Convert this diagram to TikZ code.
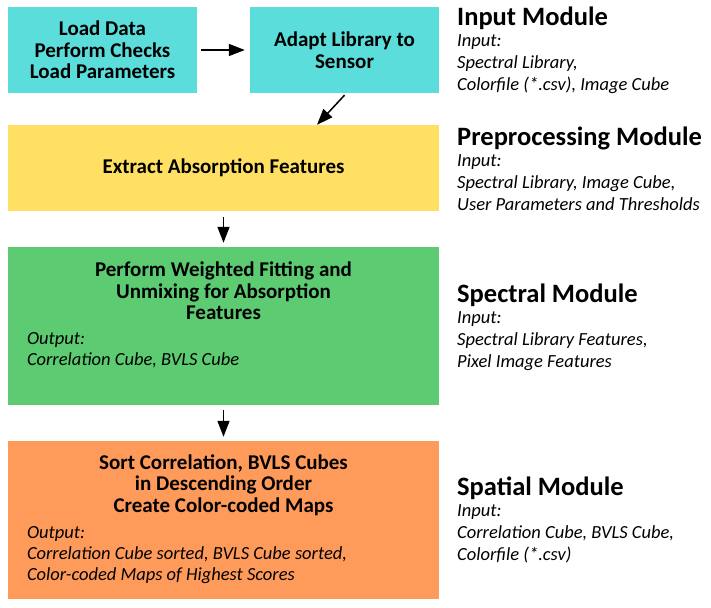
\documentclass[tikz,border=0pt]{standalone}
\usepackage{fontspec}
\setmainfont{Carlito}
\usetikzlibrary{arrows.meta,positioning}
\definecolor{inputcyan}{HTML}{5BDDDB}
\definecolor{preyellow}{HTML}{FFE063}
\definecolor{specgreen}{HTML}{5CCB71}
\definecolor{spatorange}{HTML}{FF9B5A}

\begin{document}
\begin{tikzpicture}[x=1pt, y=-1pt,
    stepbox/.style={minimum width=189pt, minimum height=86pt, inner sep=0pt},
    widebox/.style={minimum width=431pt, inner sep=0pt},
    boxtext/.style={font=\fontsize{21}{21.5}\selectfont\bfseries, align=center},
    outtext/.style={font=\fontsize{18.5}{21}\selectfont\itshape, align=left, anchor=north west, inner sep=0pt},
    modtitle/.style={font=\fontsize{26.5}{28}\selectfont\bfseries, anchor=base west, inner sep=0pt},
    modtext/.style={font=\fontsize{18.5}{22}\selectfont\itshape, align=left, anchor=base west, inner sep=0pt},
    flow/.style={-{Triangle[length=16pt, width=12pt]}, line width=1.5pt}]

\useasboundingbox (0,0) rectangle (711,607);

% processing chain
\node[stepbox, fill=inputcyan, boxtext] (load) at (102.5,50) {Load Data\\Perform Checks\\Load Parameters};
\node[stepbox, fill=inputcyan, boxtext] (adapt) at (344.5,50) {Adapt Library to\\Sensor};
\node[widebox, minimum height=86pt, fill=preyellow, boxtext] (extract) at (223.5,168) {Extract Absorption Features};
\node[widebox, minimum height=158pt, fill=specgreen] (fitting) at (223.5,326) {};
\node[widebox, minimum height=158pt, fill=spatorange] (sorting) at (223.5,520) {};

\node[boxtext] (fittitle) at ([yshift=-44pt]fitting.north) {Perform Weighted Fitting and\\Unmixing for Absorption\\Features};
\node[outtext] (fitout) at ([xshift=19pt, yshift=-85pt]fitting.north west) {Output:\\Correlation Cube, BVLS Cube};

\node[boxtext] (sorttitle) at ([yshift=-44pt]sorting.north) {Sort Correlation, BVLS Cubes\\in Descending Order\\Create Color-coded Maps};
\node[outtext] (sortout) at ([xshift=19pt, yshift=-85pt]sorting.north west) {Output:\\Correlation Cube sorted, BVLS Cube sorted,\\Color-coded Maps of Highest Scores};

% arrows
\draw[flow] ([xshift=4pt]load.east) -- ([xshift=-5pt]adapt.west);
\draw[flow] ([yshift=-2pt]adapt.south) -- ([xshift=93.5pt]extract.north);
\draw[flow] ([yshift=-6pt]extract.south) -- ([yshift=4pt]fitting.north);
\draw[flow] ([yshift=-5pt]fitting.south) -- ([yshift=4pt]sorting.north);

% module descriptions (base of the info node = its last line)
\node[modtitle] (inmod) at (457,26) {Input Module};
\node[modtext] (ininfo) at ([yshift=-65pt]inmod.base west) {Input:\\Spectral Library,\\Colorfile (*.csv), Image Cube};

\node[modtitle] (premod) at (457,145) {Preprocessing Module};
\node[modtext] (preinfo) at ([yshift=-65pt]premod.base west) {Input:\\Spectral Library, Image Cube,\\User Parameters and Thresholds};

\node[modtitle] (specmod) at (457,302) {Spectral Module};
\node[modtext] (specinfo) at ([yshift=-65pt]specmod.base west) {Input:\\Spectral Library Features,\\Pixel Image Features};

\node[modtitle] (spatmod) at (457,495) {Spatial Module};
\node[modtext] (spatinfo) at ([yshift=-65pt]spatmod.base west) {Input:\\Correlation Cube, BVLS Cube,\\Colorfile (*.csv)};
\end{tikzpicture}
\end{document}
